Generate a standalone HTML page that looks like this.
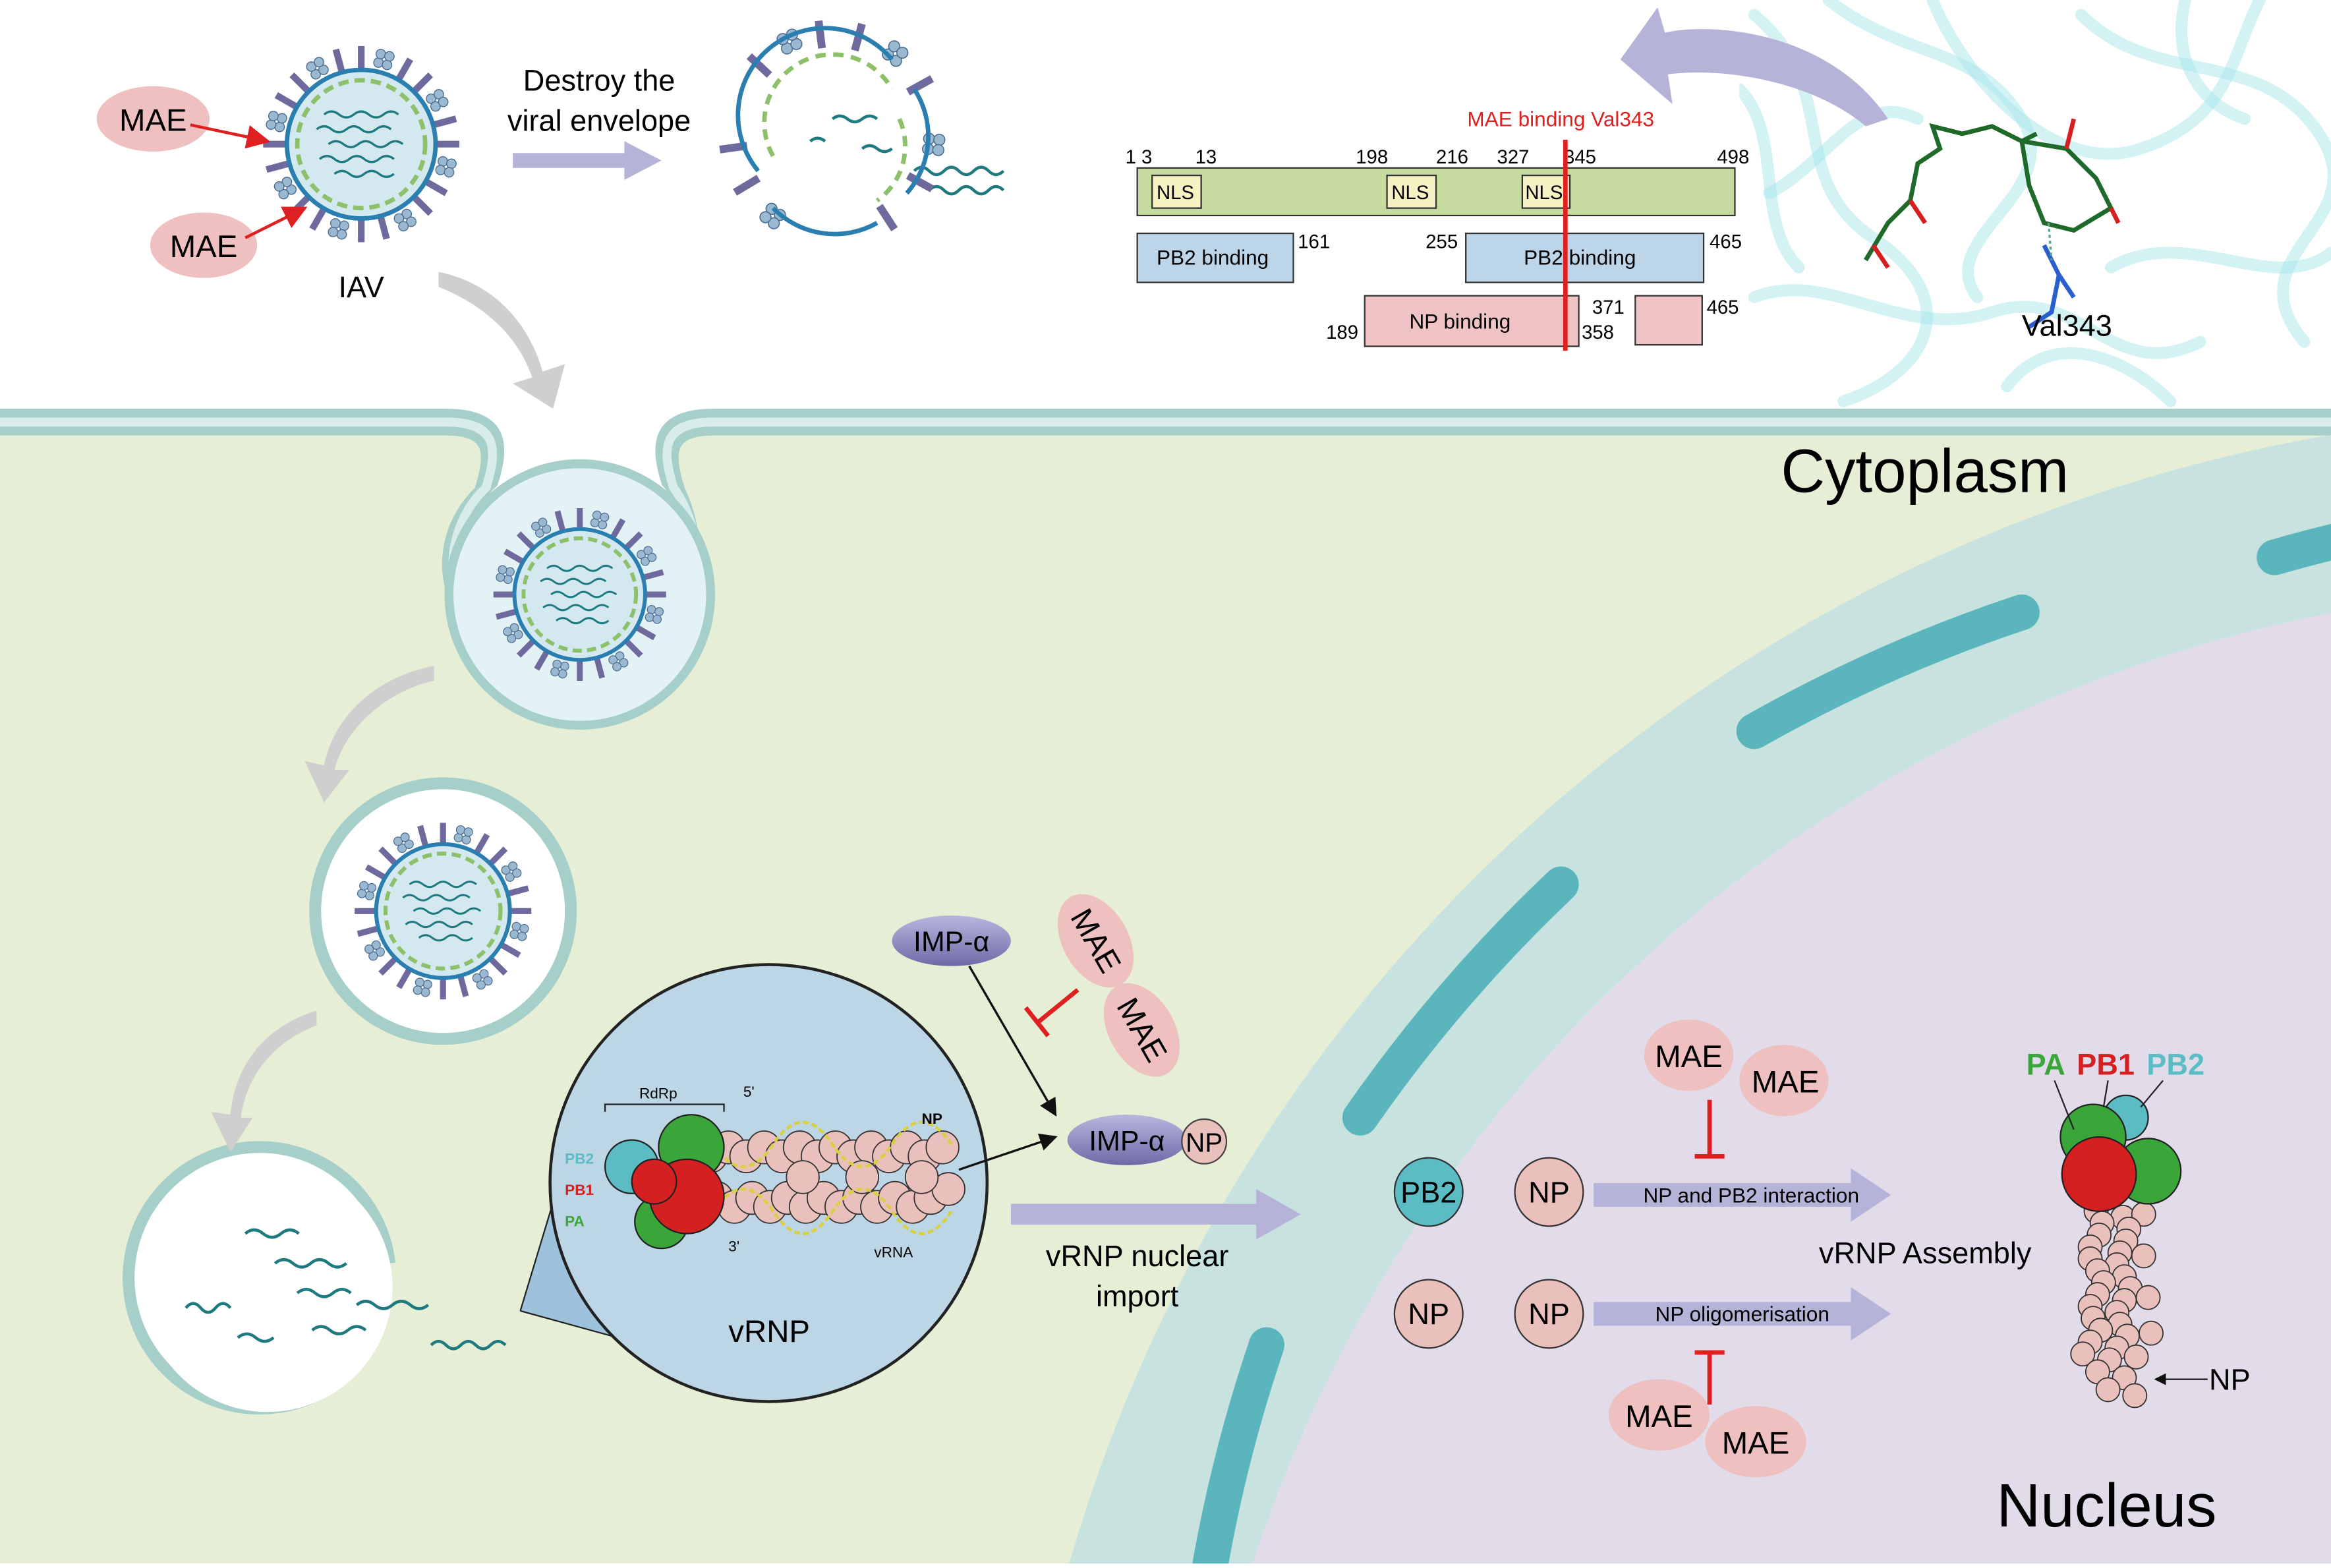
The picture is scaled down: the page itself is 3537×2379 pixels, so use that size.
<!DOCTYPE html>
<html><head><meta charset="utf-8"><style>
html,body{margin:0;padding:0;background:#fff;overflow:hidden;width:3537px;height:2379px}
svg{display:block;position:absolute;left:0;top:0}
text{font-family:"Liberation Sans",sans-serif}
</style></head><body>
<svg width="3537" height="2379" viewBox="0 0 1568 1055" preserveAspectRatio="none" xmlns="http://www.w3.org/2000/svg">
<defs>
<marker id="ah" markerWidth="8" markerHeight="8" refX="7" refY="4" orient="auto"><path d="M0,0 L8,4 L0,8 z" fill="#111"/></marker>
<marker id="ar" markerWidth="8" markerHeight="8" refX="7" refY="4" orient="auto"><path d="M0,0 L8,4 L0,8 z" fill="#e02020"/></marker>
<linearGradient id="imp" x1="0" y1="0" x2="0" y2="1"><stop offset="0" stop-color="#b9b6de"/><stop offset="1" stop-color="#6e6aa8"/></linearGradient>
<clipPath id="topc"><rect x="1170" y="0" width="398" height="276"/></clipPath>
<clipPath id="all"><rect x="0" y="0" width="1568" height="1055"/></clipPath>
<g id="s1"><line x1="50" y1="0" x2="66" y2="0" stroke="#6f6a9e" stroke-width="4.5"/></g>
<g id="s2" fill="#9ab8d0" stroke="#4a6a90" stroke-width="0.6"><circle cx="56" cy="-3" r="3.2"/><circle cx="56" cy="3" r="3.2"/><circle cx="62" cy="-3" r="3.2"/><circle cx="62" cy="3" r="3.2"/></g>
<g id="vir">
<use href="#s1" transform="rotate(0)"/><use href="#s2" transform="rotate(15)"/><use href="#s1" transform="rotate(30)"/><use href="#s1" transform="rotate(45)"/><use href="#s2" transform="rotate(60)"/><use href="#s1" transform="rotate(75)"/><use href="#s1" transform="rotate(90)"/><use href="#s2" transform="rotate(105)"/><use href="#s1" transform="rotate(120)"/><use href="#s1" transform="rotate(135)"/><use href="#s2" transform="rotate(150)"/><use href="#s1" transform="rotate(165)"/><use href="#s1" transform="rotate(180)"/><use href="#s2" transform="rotate(195)"/><use href="#s1" transform="rotate(210)"/><use href="#s1" transform="rotate(225)"/><use href="#s2" transform="rotate(240)"/><use href="#s1" transform="rotate(255)"/><use href="#s1" transform="rotate(270)"/><use href="#s2" transform="rotate(285)"/><use href="#s1" transform="rotate(300)"/><use href="#s1" transform="rotate(315)"/><use href="#s2" transform="rotate(330)"/><use href="#s1" transform="rotate(345)"/>
<circle r="50" fill="#d4e8f0" stroke="#2a7fb0" stroke-width="3"/>
<circle r="43" fill="none" stroke="#8dc06a" stroke-width="3" stroke-dasharray="7 4"/>
<g fill="none" stroke="#1f7a80" stroke-width="1.5">
<path d="M-25,-20 q5,-4 10,0 t10,0 t10,0 t10,0 t10,0"/>
<path d="M-30,-10 q5,-4 10,0 t10,0 t10,0 t10,0 t10,0"/>
<path d="M-22,0 q5,-4 10,0 t10,0 t10,0 t10,0 t10,0"/>
<path d="M-28,10 q5,-4 10,0 t10,0 t10,0 t10,0 t10,0"/>
<path d="M-18,20 q5,-4 10,0 t10,0 t10,0 t10,0"/>
</g>
</g>
<g id="bd"><circle r="11" fill="#eac0bc" stroke="#333" stroke-width="0.8"/></g>
<g id="cb"><circle r="8" fill="#eac0bc" stroke="#333" stroke-width="0.8"/></g>
</defs>
<g clip-path="url(#all)">
<rect width="1568" height="1055" fill="#fff"/>
<path d="M0,285 L300,285 C330,285 335,300 330,330 C300,360 295,440 390,460 C480,440 470,360 450,330 C445,300 450,285 480,285 L1568,285 L1568,1055 L0,1055 Z" fill="#e6efd6"/>
<path d="M0,278 L300,278 C340,278 340,300 332,325 C295,360 290,450 390,465 C490,450 480,360 448,325 C440,300 440,278 480,278 L1568,278" fill="none" stroke="#a5cfc8" stroke-width="6"/>
<path d="M0,290 L300,290 C330,290 330,305 322,330 C285,365 288,440 390,455 C480,440 475,365 458,330 C450,305 450,290 480,290 L1568,290" fill="none" stroke="#a5cfc8" stroke-width="6"/>
<path d="M0,284 L300,284 C335,284 335,302 327,328 C290,362 291,445 390,460 C485,445 478,362 453,328 C445,302 445,284 480,284 L1568,284" fill="none" stroke="#d8ecea" stroke-width="6"/>
<circle cx="1750" cy="1350" r="1073" fill="#c8e3df"/>
<circle cx="1750" cy="1350" r="955" fill="#e2dcea"/>
<g fill="none" stroke="#5ab5bd" stroke-width="24" stroke-linecap="round">
<path d="M812,1065 A1010,1010 0 0,1 852,905"/>
<path d="M915,752 A1010,1010 0 0,1 1050,595"/>
<path d="M1180,492 A1010,1010 0 0,1 1360,412"/>
<path d="M1530,375 A1010,1010 0 0,1 1580,362"/>
</g>
<rect x="0" y="1052" width="1568" height="3" fill="#fff"/>
<circle cx="390" cy="400" r="88" fill="#e3f2f4" stroke="#a5cfc8" stroke-width="6"/>
<circle cx="298" cy="613" r="86" fill="#ffffff" stroke="#a5cfc8" stroke-width="8"/>
<path d="M262,850 A88,88 0 1,0 250,905" fill="#fff" stroke="#a5cfc8" stroke-width="8"/>
<circle cx="180" cy="866" r="84" fill="#fff"/>
<use href="#vir" transform="translate(243,97) scale(1.0)"/>
<use href="#vir" transform="translate(390,400) scale(0.88)"/>
<use href="#vir" transform="translate(298,613) scale(0.9)"/>
<g fill="none" stroke="#1f7a80" stroke-width="2">
<path d="M165,830 q6,-5 12,0 t12,0 t12,0"/><path d="M185,850 q6,-5 12,0 t12,0 t12,0 t12,0"/>
<path d="M200,870 q6,-5 12,0 t12,0 t12,0"/><path d="M125,880 q5,-6 10,0 t10,0 t10,0"/>
<path d="M160,900 q6,-5 12,0 t12,0"/><path d="M210,895 q6,-5 12,0 t12,0 t12,0"/>
<path d="M240,878 q6,-5 12,0 t12,0 t12,0 t12,0"/><path d="M290,905 q5,-5 10,0 t10,0 t10,0 t10,0 t10,0"/>
<path d="M615,115 q5,-5 10,0 t10,0 t10,0 t10,0 t10,0 t10,0"/><path d="M625,128 q5,-5 10,0 t10,0 t10,0 t10,0 t10,0"/>
</g>
<g transform="translate(560,90) scale(1.16)">
<use href="#s1" transform="rotate(-137)"/><use href="#s2" transform="rotate(-115)"/><use href="#s1" transform="rotate(-97)"/><use href="#s1" transform="rotate(-75)"/><use href="#s2" transform="rotate(-52)"/><use href="#s1" transform="rotate(-29)"/><use href="#s2" transform="rotate(6)"/><use href="#s1" transform="rotate(29)"/><use href="#s1" transform="rotate(57)"/><use href="#s2" transform="rotate(126)"/><use href="#s1" transform="rotate(149)"/><use href="#s1" transform="rotate(172)"/>
</g>
<g fill="none">
<path d="M510,115 A58,58 0 0,1 600,40" stroke="#2a7fb0" stroke-width="3"/>
<path d="M615,60 A58,58 0 0,1 610,130" stroke="#2a7fb0" stroke-width="3"/>
<path d="M520,140 A58,58 0 0,0 590,150" stroke="#2a7fb0" stroke-width="3"/>
<path d="M520,105 A45,45 0 0,1 600,60 M605,80 A45,45 0 0,1 590,135" stroke="#8dc06a" stroke-width="3" stroke-dasharray="7 5"/>
<path d="M560,80 q5,-4 10,0 t10,0 t10,0 M545,95 q5,-4 10,0 M580,100 q5,-4 10,0 t10,0" stroke="#1f7a80" stroke-width="2"/>
</g>
<path d="M350,882 L395,733 L470,915 Z" fill="#9fc2dc"/>
<line x1="350" y1="882" x2="395" y2="733" stroke="#222"/><line x1="350" y1="882" x2="470" y2="915" stroke="#222"/>
<circle cx="517" cy="796" r="147" fill="#bcd6e6" stroke="#222" stroke-width="2"/>
<g>
<use href="#bd" x="478" y="778"/><use href="#bd" x="490" y="772"/><use href="#bd" x="502" y="778"/><use href="#bd" x="514" y="772"/><use href="#bd" x="526" y="778"/><use href="#bd" x="538" y="772"/><use href="#bd" x="550" y="778"/><use href="#bd" x="562" y="772"/><use href="#bd" x="574" y="778"/><use href="#bd" x="586" y="772"/><use href="#bd" x="598" y="778"/><use href="#bd" x="610" y="772"/><use href="#bd" x="622" y="778"/><use href="#bd" x="634" y="772"/>
<use href="#bd" x="482" y="806"/><use href="#bd" x="494" y="812"/><use href="#bd" x="506" y="806"/><use href="#bd" x="518" y="812"/><use href="#bd" x="530" y="806"/><use href="#bd" x="542" y="812"/><use href="#bd" x="554" y="806"/><use href="#bd" x="566" y="812"/><use href="#bd" x="578" y="806"/><use href="#bd" x="590" y="812"/><use href="#bd" x="602" y="806"/><use href="#bd" x="614" y="812"/><use href="#bd" x="626" y="806"/><use href="#bd" x="638" y="800"/>
<use href="#bd" x="540" y="792"/><use href="#bd" x="580" y="792"/><use href="#bd" x="620" y="792"/>
</g>
<path d="M480,770 q20,30 40,0 t40,0 t40,0 t40,0 M480,815 q20,-30 40,0 t40,0 t40,0 t40,0" fill="none" stroke="#d8d040" stroke-width="2" stroke-dasharray="4 2"/>
<circle cx="425" cy="785" r="18" fill="#5bbcc4" stroke="#222"/>
<circle cx="465" cy="772" r="22" fill="#3aa63a" stroke="#222"/>
<circle cx="445" cy="822" r="18" fill="#3aa63a" stroke="#222"/>
<circle cx="462" cy="805" r="25" fill="#d42020" stroke="#222"/>
<circle cx="440" cy="795" r="15" fill="#d42020" stroke="#222"/>
<path d="M407,748 L407,743 L487,743 L487,748" fill="none" stroke="#222"/>
<text x="430" y="739" font-size="10">RdRp</text>
<text x="380" y="783" font-size="10" fill="#5bbcc4" font-weight="bold">PB2</text>
<text x="380" y="804" font-size="10" fill="#d42020" font-weight="bold">PB1</text>
<text x="380" y="825" font-size="10" fill="#3aa63a" font-weight="bold">PA</text>
<text x="500" y="738" font-size="10">5'</text><text x="490" y="842" font-size="10">3'</text>
<text x="620" y="756" font-size="10" font-weight="bold">NP</text><text x="588" y="846" font-size="10">vRNA</text>
<text x="490" y="903" font-size="21">vRNP</text>
<g fill="#cfcfcf">
<path d="M295,183 C330,190 355,215 365,250 L380,245 L372,275 L345,258 L358,254 C348,225 325,205 295,193 Z"/>
<path d="M292,448 C255,455 225,480 218,515 L205,512 L218,540 L235,518 L225,518 C232,490 260,465 292,458 Z"/>
<path d="M213,680 C180,690 158,715 155,750 L142,748 L155,775 L170,752 L162,752 C166,722 186,700 213,690 Z"/>
</g>
<g fill="#b5b3d8">
<path d="M345,103 L420,103 L420,95 L445,108 L420,121 L420,113 L345,113 Z"/>
<path d="M680,810 L845,810 L845,800 L875,817 L845,834 L845,824 L680,824 Z"/>
<path d="M1072,796 L1245,796 L1245,786 L1272,804 L1245,822 L1245,812 L1072,812 Z"/>
<path d="M1072,876 L1245,876 L1245,866 L1272,884 L1245,902 L1245,892 L1072,892 Z"/>
</g>
<text x="403" y="61" font-size="20" text-anchor="middle">Destroy the</text>
<text x="403" y="88" font-size="20" text-anchor="middle">viral envelope</text>
<text x="1178" y="809" font-size="14" text-anchor="middle">NP and PB2 interaction</text>
<text x="1172" y="889" font-size="14" text-anchor="middle">NP oligomerisation</text>
<text x="243" y="200" font-size="20" text-anchor="middle">IAV</text>
<text x="765" y="852" font-size="20" text-anchor="middle">vRNP nuclear</text>
<text x="765" y="879" font-size="20" text-anchor="middle">import</text>
<text x="1295" y="850" font-size="20" text-anchor="middle">vRNP Assembly</text>
<text x="1198" y="331" font-size="41">Cytoplasm</text>
<text x="1343" y="1027" font-size="41">Nucleus</text>
<g fill="#efc0c0">
<ellipse cx="103" cy="80" rx="38" ry="22"/><ellipse cx="137" cy="165" rx="36" ry="22"/>
<ellipse cx="737" cy="633" rx="34" ry="22" transform="rotate(60 737 633)"/>
<ellipse cx="768" cy="693" rx="34" ry="22" transform="rotate(60 768 693)"/>
<ellipse cx="1136" cy="710" rx="30" ry="24"/><ellipse cx="1200" cy="727" rx="30" ry="24"/>
<ellipse cx="1116" cy="952" rx="34" ry="24"/><ellipse cx="1181" cy="970" rx="34" ry="24"/>
</g>
<g font-size="21" text-anchor="middle">
<text x="103" y="88">MAE</text><text x="137" y="173">MAE</text>
<text x="737" y="640" transform="rotate(60 737 633)">MAE</text>
<text x="768" y="700" transform="rotate(60 768 693)">MAE</text>
<text x="1136" y="718">MAE</text><text x="1201" y="735">MAE</text>
<text x="1116" y="960">MAE</text><text x="1181" y="978">MAE</text>
</g>
<line x1="128" y1="84" x2="180" y2="95" stroke="#e02020" stroke-width="2" marker-end="url(#ar)"/>
<line x1="165" y1="160" x2="205" y2="140" stroke="#e02020" stroke-width="2" marker-end="url(#ar)"/>
<ellipse cx="640" cy="633" rx="40" ry="17" fill="url(#imp)"/>
<text x="640" y="640" font-size="19" text-anchor="middle">IMP-α</text>
<line x1="652" y1="650" x2="710" y2="750" stroke="#111" stroke-width="1.5" marker-end="url(#ah)"/>
<line x1="725" y1="666" x2="698" y2="688" stroke="#e02020" stroke-width="3"/>
<line x1="690" y1="678" x2="705" y2="697" stroke="#e02020" stroke-width="3"/>
<ellipse cx="758" cy="767" rx="40" ry="17" fill="url(#imp)"/>
<circle cx="810" cy="768" r="15" fill="#eac0bc" stroke="#444"/>
<text x="758" y="774" font-size="19" text-anchor="middle">IMP-α</text>
<text x="810" y="775" font-size="18" text-anchor="middle">NP</text>
<line x1="645" y1="787" x2="710" y2="765" stroke="#111" stroke-width="1.5" marker-end="url(#ah)"/>
<g stroke="#e02020" stroke-width="3">
<line x1="1150" y1="740" x2="1150" y2="778"/><line x1="1140" y1="778" x2="1160" y2="778"/>
<line x1="1150" y1="945" x2="1150" y2="910"/><line x1="1140" y1="910" x2="1160" y2="910"/>
</g>
<circle cx="961" cy="802" r="23" fill="#5bbcc4" stroke="#333"/>
<circle cx="1042" cy="802" r="23" fill="#eac0bc" stroke="#333"/>
<circle cx="961" cy="884" r="23" fill="#eac0bc" stroke="#333"/>
<circle cx="1042" cy="884" r="23" fill="#eac0bc" stroke="#333"/>
<g font-size="20" text-anchor="middle"><text x="961" y="809">PB2</text><text x="1042" y="809">NP</text><text x="961" y="891">NP</text><text x="1042" y="891">NP</text></g>
<g>
<use href="#cb" x="1410" y="815"/><use href="#cb" x="1428" y="819"/><use href="#cb" x="1442" y="817"/>
<use href="#cb" x="1414" y="823"/><use href="#cb" x="1432" y="827"/>
<use href="#cb" x="1412" y="831"/><use href="#cb" x="1430" y="835"/>
<use href="#cb" x="1406" y="839"/><use href="#cb" x="1426" y="843"/><use href="#cb" x="1442" y="845"/>
<use href="#cb" x="1406" y="847"/><use href="#cb" x="1424" y="851"/>
<use href="#cb" x="1411" y="855"/><use href="#cb" x="1429" y="859"/>
<use href="#cb" x="1415" y="863"/><use href="#cb" x="1433" y="867"/>
<use href="#cb" x="1411" y="871"/><use href="#cb" x="1429" y="875"/><use href="#cb" x="1445" y="873"/>
<use href="#cb" x="1406" y="879"/><use href="#cb" x="1424" y="883"/>
<use href="#cb" x="1408" y="887"/><use href="#cb" x="1426" y="891"/>
<use href="#cb" x="1413" y="895"/><use href="#cb" x="1431" y="899"/><use href="#cb" x="1447" y="897"/>
<use href="#cb" x="1406" y="903"/><use href="#cb" x="1424" y="907"/>
<use href="#cb" x="1401" y="911"/><use href="#cb" x="1419" y="915"/><use href="#cb" x="1437" y="913"/>
<use href="#cb" x="1411" y="923"/><use href="#cb" x="1429" y="927"/>
<use href="#cb" x="1418" y="935"/><use href="#cb" x="1436" y="939"/>
</g>
<circle cx="1430" cy="752" r="15" fill="#5bbcc4" stroke="#222"/>
<circle cx="1408" cy="765" r="22" fill="#3aa63a" stroke="#222"/>
<circle cx="1445" cy="788" r="22" fill="#3aa63a" stroke="#222"/>
<circle cx="1412" cy="790" r="25" fill="#d42020" stroke="#222"/>
<g font-size="20" font-weight="bold"><text x="1363" y="723" fill="#3aa63a">PA</text><text x="1397" y="723" fill="#d42020">PB1</text><text x="1444" y="723" fill="#5bbcc4">PB2</text></g>
<line x1="1382" y1="727" x2="1395" y2="760" stroke="#222"/><line x1="1418" y1="727" x2="1415" y2="745" stroke="#222"/><line x1="1455" y1="727" x2="1440" y2="745" stroke="#222"/>
<line x1="1485" y1="928" x2="1450" y2="928" stroke="#111" marker-end="url(#ah)"/>
<text x="1486" y="935" font-size="20">NP</text>
<g clip-path="url(#topc)" fill="none" stroke="#a6e6ea" stroke-opacity="0.5" stroke-width="8" stroke-linecap="round">
<path d="M1180,10 C1240,60 1200,120 1260,160 S1300,250 1240,270"/>
<path d="M1230,0 C1280,40 1330,30 1360,80 S1300,160 1330,200"/>
<path d="M1400,10 C1450,60 1520,30 1560,90 S1500,170 1550,230"/>
<path d="M1180,200 C1230,180 1280,230 1340,210 S1420,260 1480,230"/>
<path d="M1300,0 C1320,50 1380,120 1440,100 S1500,40 1520,0"/>
<path d="M1420,180 C1470,150 1530,200 1568,170"/>
<path d="M1190,130 C1230,110 1250,60 1290,80"/>
<path d="M1350,260 C1380,220 1430,240 1460,270"/>
<path d="M1170,60 C1200,90 1180,150 1210,180"/>
<path d="M1470,0 C1460,40 1480,70 1510,80"/>
</g>
<path d="M1270,80 C1230,20 1150,15 1120,22 L1115,5 L1090,40 L1125,70 L1122,50 C1160,45 1220,55 1255,85 Z" fill="#b5b3d8"/>
<g fill="none" stroke-width="3">
<path d="M1255,175 L1270,150 L1285,135 L1290,110 L1305,100 L1300,85 L1320,90 L1340,85 L1360,95 L1370,90" stroke="#1f6a2a"/>
<path d="M1360,95 L1390,100 L1410,120 L1420,140 L1395,155 L1375,150 L1365,125 Z" stroke="#1f6a2a"/>
<path d="M1285,135 L1295,150 M1390,100 L1395,80 M1420,140 L1425,150 M1260,165 L1270,180" stroke="#d42020"/>
<path d="M1375,165 L1385,185 L1380,210 L1365,220 M1385,185 L1395,200" stroke="#2a5fd0"/>
<line x1="1378" y1="150" x2="1380" y2="175" stroke="#5a8" stroke-width="1.5" stroke-dasharray="2 2"/>
</g>
<text x="1360" y="226" font-size="20">Val343</text>
<g font-size="13">
<rect x="765" y="113" width="402" height="32" fill="#c5dba0" stroke="#333"/>
<rect x="775" y="118" width="33" height="22" fill="#f7f2c4" stroke="#333"/>
<rect x="933" y="118" width="33" height="22" fill="#f7f2c4" stroke="#333"/>
<rect x="1024" y="118" width="32" height="22" fill="#f7f2c4" stroke="#333"/>
<text x="778" y="134">NLS</text><text x="936" y="134">NLS</text><text x="1026" y="134">NLS</text>
<text x="757" y="110">1 3</text><text x="804" y="110">13</text><text x="912" y="110">198</text><text x="966" y="110">216</text><text x="1007" y="110">327</text><text x="1052" y="110">345</text><text x="1155" y="110">498</text>
<rect x="765" y="157" width="105" height="33" fill="#bcd5e8" stroke="#333"/>
<rect x="986" y="157" width="160" height="33" fill="#bcd5e8" stroke="#333"/>
<text x="778" y="178" font-size="14">PB2 binding</text><text x="1025" y="178" font-size="14">PB2 binding</text>
<text x="873" y="167">161</text><text x="959" y="167">255</text><text x="1150" y="167">465</text>
<rect x="918" y="199" width="144" height="34" fill="#f0c4c4" stroke="#333"/>
<rect x="1100" y="199" width="45" height="33" fill="#f0c4c4" stroke="#333"/>
<text x="948" y="221" font-size="14">NP binding</text>
<text x="892" y="228">189</text><text x="1071" y="211">371</text><text x="1064" y="228">358</text><text x="1148" y="211">465</text>
<text x="987" y="85" font-size="14" fill="#e02020">MAE binding Val343</text>
<line x1="1053" y1="94" x2="1053" y2="236" stroke="#e02020" stroke-width="3"/>
</g>
</g>
</svg>
</body></html>
